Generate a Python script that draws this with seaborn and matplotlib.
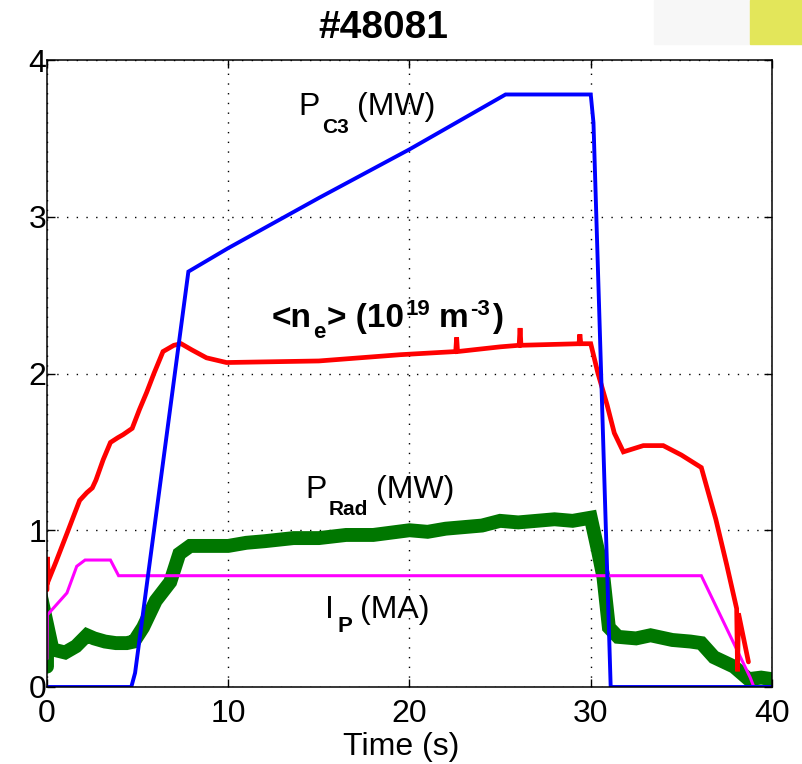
import matplotlib
matplotlib.use("Agg")
import matplotlib.pyplot as plt
import seaborn as sns
import pandas as pd
from matplotlib.patches import Rectangle

# ---- shot #48081 waveforms (time in s) ----
pc3_t = [0, 4.65, 4.86, 7.8, 10, 15, 20, 25.3, 30.0, 30.15, 31.1, 40]
pc3_v = [0, 0, 0.09, 2.65, 2.80, 3.12, 3.43, 3.78, 3.78, 3.60, 0, 0]

ne_t = [0, 0.02, 0.08, 0.5, 1.17, 1.5, 1.8, 2.2, 2.5, 2.7, 3.1, 3.5, 3.9, 4.2,
        4.7, 5.1, 5.5, 5.9, 6.4, 7.0, 7.4, 8.0, 8.8, 9.9, 15, 19.5, 22.55,
        22.6, 22.65, 25, 26.05, 26.1, 26.15, 29.35, 29.4, 29.45, 30.0, 30.4,
        30.9, 31.3, 31.8, 32.9, 34.0, 35.0, 36.1, 36.9, 37.5, 38.05, 38.1,
        38.15, 38.7]
ne_v = [0.62, 0.83, 0.68, 0.80, 1.00, 1.10, 1.19, 1.24, 1.27, 1.32, 1.45, 1.56,
        1.59, 1.61, 1.65, 1.77, 1.88, 2.00, 2.14, 2.18, 2.19, 2.15, 2.10, 2.07,
        2.08, 2.12, 2.14, 2.23, 2.14, 2.17, 2.18, 2.29, 2.18, 2.19, 2.25, 2.19,
        2.19, 2.00, 1.80, 1.62, 1.50, 1.54, 1.54, 1.48, 1.40, 1.07, 0.78, 0.50,
        0.10, 0.47, 0.16]

prad_t = [0, 0, 0.3, 1.0, 1.6, 2.2, 2.6, 3.2, 3.8, 4.4, 4.8, 5.3, 6.0, 6.8,
          7.3, 7.9, 9.0, 10, 11, 12, 13.6, 15, 16.5, 18, 20, 21, 22, 23, 24,
          25, 26, 27, 28, 29, 30, 30.4, 30.7, 31.0, 31.5, 32.5, 33.3, 34.5,
          35.5, 36.1, 36.8, 37.9, 38.7, 39.4, 40]
prad_v = [0.13, 0.40, 0.24, 0.22, 0.26, 0.33, 0.31, 0.29, 0.28, 0.28, 0.29,
          0.38, 0.55, 0.67, 0.85, 0.90, 0.90, 0.90, 0.92, 0.93, 0.95, 0.95,
          0.97, 0.97, 1.00, 0.99, 1.01, 1.02, 1.03, 1.06, 1.05, 1.06, 1.07,
          1.06, 1.08, 0.87, 0.70, 0.38, 0.32, 0.31, 0.33, 0.30, 0.29, 0.28,
          0.19, 0.13, 0.05, 0.06, 0.05]

ip_t = [0, 0.02, 1.1, 1.64, 2.1, 3.5, 3.95, 36.1, 38.8, 39.0, 40]
ip_v = [0.18, 0.46, 0.60, 0.77, 0.81, 0.81, 0.71, 0.71, 0.06, 0.0, 0.0]

x_ticks = [0, 10, 20, 30, 40]
y_ticks = [0, 1, 2, 3, 4]

sns.set_style("ticks")
plt.rcParams["font.family"] = ["Liberation Sans", "DejaVu Sans"]
plt.rcParams["text.color"] = "black"
plt.rcParams["axes.labelcolor"] = "black"

fig = plt.figure(figsize=(8.03, 7.64), dpi=100)
W, H = 803, 764
ax = fig.add_axes([47 / W, (H - 687) / H, 725 / W, 627 / H])

series = [
    (prad_t, prad_v, "#007700", 10),
    (ip_t, ip_v, "#ff00ff", 2.2),
    (ne_t, ne_v, "#ff0000", 3.4),
    (pc3_t, pc3_v, "#0000ff", 2.8),
]
for t, v, c, lw in series:
    df = pd.DataFrame({"t": t, "v": v})
    sns.lineplot(data=df, x="t", y="v", ax=ax, color=c, linewidth=lw,
                 estimator=None, sort=False, solid_joinstyle="miter")

ax.set_xlim(0, 40)
ax.set_ylim(0, 4)
ax.set_xticks(x_ticks)
ax.set_yticks(y_ticks)
ax.set_ylabel("")
ax.set_xlabel("Time (s)", fontsize=23, color="black")
ax.xaxis.set_label_coords(0.488, -0.071)

ax.grid(True, color="black", linestyle=(0, (1, 6)), linewidth=1.0)
ax.set_axisbelow(True)
for s in ax.spines.values():
    s.set_visible(True)
    s.set_linewidth(1.1)
    s.set_color("black")
ax.tick_params(axis="both", direction="in", length=6, width=1.0,
               top=True, right=True, labelsize=23, colors="black")
ax.tick_params(axis="x", pad=9)
ax.tick_params(axis="y", pad=0.5)

fig.text(383 / W, 1 - 38 / H, "#48081", ha="center", va="baseline",
         fontsize=28, fontweight="bold", color="black")

# the faint strip in the top-right corner
fig.patches.append(Rectangle((654 / W, 1 - 44 / H), 96 / W, 44 / H,
                             transform=fig.transFigure, color="#f7f7f7", zorder=0))
fig.patches.append(Rectangle((750 / W, 1 - 44 / H), 53 / W, 44 / H,
                             transform=fig.transFigure, color="#e3e65a", zorder=0))

fig.canvas.draw()
renderer = fig.canvas.get_renderer()


def rich_label(t, v, pieces):
    """Lay out text pieces left to right from a data anchor (baseline)."""
    x = 0.0
    for text, size, weight, dy, gap in pieces:
        x += gap
        a = ax.annotate(text, xy=(t, v), xycoords="data", xytext=(x, dy),
                        textcoords="offset pixels", ha="left", va="baseline",
                        fontsize=size, fontweight=weight, color="black",
                        annotation_clip=False)
        bb = a.get_window_extent(renderer)
        x += bb.width


rich_label(13.85, 3.649, [("P", 23, "normal", 0, 0),
                          ("C3", 15, "bold", -18, 3),
                          ("(MW)", 23, "normal", 0, 8)])
rich_label(12.41, 2.297, [("<n", 24, "bold", 0, 0),
                          ("e", 16, "bold", -11, 1),
                          ("> (10", 24, "bold", 0, 2),
                          ("19", 16, "bold", 12, 1),
                          ("m", 24, "bold", 0, 9),
                          ("-3", 16, "bold", 12, 1),
                          (")", 24, "bold", 0, 2)])
rich_label(14.23, 1.206, [("P", 23, "normal", 0, 0),
                          ("Rad", 15, "bold", -17, 2),
                          ("(MW)", 23, "normal", 0, 8)])
rich_label(15.34, 0.44, [("I", 23, "normal", 0, 0),
                         ("P", 16, "bold", -14, 4),
                         ("(MA)", 23, "normal", 0, 7)])

fig.savefig("out.png", dpi=100)
